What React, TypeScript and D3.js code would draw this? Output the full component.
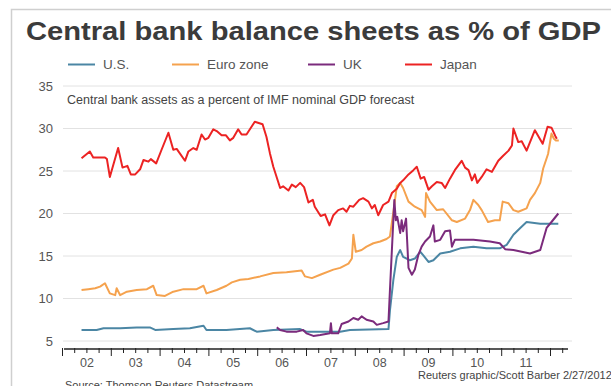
import React from "react";
import * as d3 from "d3";

const W = 611;
const H = 386;

const title = "Central bank balance sheets as % of GDP";
const subtitle = "Central bank assets as a percent of IMF nominal GDP forecast";
const sourceText = "Source: Thomson Reuters Datastream";
const creditText = "Reuters graphic/Scott Barber 2/27/2012";

const yTicks = [5, 10, 15, 20, 25, 30, 35];
const yearLabels = ["02", "03", "04", "05", "06", "07", "08", "09", "10", "11"];

const seriesNames = ["U.S.", "Euro zone", "UK", "Japan"];
const seriesColors = ["#4b86a4", "#f5a24e", "#7b2b7c", "#ec2323"];

// [decimal year, % of GDP]
const usData: [number, number][] = [
  [2002.39, 6.3], [2002.7, 6.3], [2002.84, 6.5], [2003.18, 6.5], [2003.52, 6.6],
  [2003.79, 6.6], [2003.9, 6.3], [2004.27, 6.4], [2004.61, 6.5], [2004.89, 6.8],
  [2004.95, 6.3], [2005.36, 6.3], [2005.84, 6.5], [2005.98, 6.1], [2006.32, 6.3],
  [2006.87, 6.4], [2007.0, 6.1], [2007.69, 6.1], [2007.89, 6.3], [2008.68, 6.4],
  [2008.71, 8.6], [2008.78, 12.2], [2008.85, 14.9], [2008.92, 15.7], [2008.98, 14.9],
  [2009.12, 14.5], [2009.22, 14.7], [2009.33, 15.5], [2009.39, 15.1], [2009.5, 14.3],
  [2009.6, 14.5], [2009.74, 15.3], [2009.94, 15.5], [2010.15, 15.9], [2010.42, 16.1],
  [2010.69, 15.9], [2010.96, 15.9], [2011.1, 16.3], [2011.24, 17.5], [2011.38, 18.3],
  [2011.51, 19.0], [2011.79, 18.8], [2011.99, 18.8], [2012.16, 18.8],
];

const euroData: [number, number][] = [
  [2002.39, 11.0], [2002.53, 11.1], [2002.67, 11.2], [2002.77, 11.4], [2002.87, 11.8],
  [2002.97, 10.6], [2003.08, 10.4], [2003.11, 11.2], [2003.18, 10.4], [2003.32, 10.8],
  [2003.52, 11.0], [2003.73, 11.1], [2003.86, 11.5], [2003.93, 10.4], [2004.1, 10.3],
  [2004.27, 10.8], [2004.48, 11.1], [2004.75, 11.1], [2004.89, 11.5], [2004.95, 10.6],
  [2005.16, 11.0], [2005.36, 11.5], [2005.47, 11.9], [2005.64, 12.2], [2005.81, 12.3],
  [2006.05, 12.6], [2006.32, 13.0], [2006.59, 13.1], [2006.9, 13.3], [2006.97, 12.6],
  [2007.11, 12.4], [2007.28, 12.8], [2007.55, 13.4], [2007.69, 13.6], [2007.86, 14.1],
  [2007.93, 14.7], [2007.96, 17.5], [2008.01, 15.5], [2008.13, 15.7], [2008.23, 16.1],
  [2008.37, 16.5], [2008.51, 16.7], [2008.64, 17.0], [2008.71, 17.3], [2008.78, 20.2],
  [2008.85, 23.2], [2008.92, 23.6], [2008.98, 23.0], [2009.09, 21.4], [2009.22, 20.8],
  [2009.36, 20.4], [2009.43, 19.6], [2009.45, 22.4], [2009.53, 21.4], [2009.67, 20.4],
  [2009.8, 20.5], [2009.98, 19.2], [2010.08, 19.0], [2010.25, 19.4], [2010.35, 20.4],
  [2010.42, 21.6], [2010.52, 21.0], [2010.59, 20.4], [2010.72, 19.0], [2010.86, 19.2],
  [2010.96, 19.2], [2011.02, 21.4], [2011.14, 21.2], [2011.24, 20.4], [2011.34, 20.2],
  [2011.51, 20.6], [2011.58, 21.6], [2011.68, 22.4], [2011.79, 23.6], [2011.85, 25.3],
  [2011.95, 27.0], [2012.02, 29.4], [2012.07, 28.8], [2012.11, 28.6], [2012.17, 28.6],
];

const ukData: [number, number][] = [
  [2006.39, 6.6], [2006.46, 6.3], [2006.59, 6.1], [2006.8, 6.1], [2006.93, 6.3],
  [2007.0, 5.9], [2007.14, 5.6], [2007.28, 5.7], [2007.48, 5.9], [2007.5, 7.1],
  [2007.52, 5.9], [2007.65, 5.9], [2007.72, 7.0], [2007.86, 7.3], [2007.96, 7.7],
  [2008.06, 7.5], [2008.13, 7.9], [2008.23, 7.5], [2008.37, 7.3], [2008.44, 6.9],
  [2008.57, 7.1], [2008.68, 7.3], [2008.71, 11.0], [2008.77, 18.1], [2008.8, 21.6],
  [2008.83, 19.2], [2008.86, 19.6], [2008.92, 17.7], [2008.95, 19.2], [2008.98, 17.9],
  [2009.04, 19.4], [2009.09, 13.6], [2009.16, 12.8], [2009.22, 13.4], [2009.29, 15.1],
  [2009.36, 16.1], [2009.43, 16.7], [2009.53, 17.3], [2009.6, 18.6], [2009.63, 16.7],
  [2009.74, 16.9], [2009.84, 17.9], [2009.94, 18.0], [2009.98, 16.1], [2010.04, 16.9],
  [2010.42, 16.9], [2010.76, 16.7], [2010.96, 16.5], [2011.07, 15.8], [2011.24, 15.7],
  [2011.58, 15.3], [2011.79, 15.7], [2011.92, 18.3], [2012.02, 19.0], [2012.16, 20.0],
];

const japanData: [number, number][] = [
  [2002.39, 26.5], [2002.56, 27.3], [2002.63, 26.6], [2002.87, 26.6], [2002.91, 26.4],
  [2002.97, 24.3], [2003.14, 27.7], [2003.23, 25.4], [2003.33, 25.6], [2003.4, 24.6],
  [2003.49, 24.6], [2003.59, 25.2], [2003.66, 26.3], [2003.76, 26.1], [2003.81, 26.4],
  [2003.92, 25.9], [2004.03, 27.5], [2004.17, 29.5], [2004.27, 27.5], [2004.34, 27.6],
  [2004.51, 26.2], [2004.58, 27.3], [2004.68, 27.7], [2004.75, 27.5], [2004.85, 29.3],
  [2004.92, 28.7], [2004.99, 28.9], [2005.09, 29.9], [2005.16, 29.7], [2005.26, 29.2],
  [2005.35, 29.2], [2005.43, 28.6], [2005.5, 28.9], [2005.6, 29.9], [2005.67, 29.3],
  [2005.77, 29.3], [2005.94, 30.8], [2006.1, 30.5], [2006.18, 29.0], [2006.25, 27.1],
  [2006.32, 25.5], [2006.46, 23.0], [2006.52, 23.2], [2006.63, 22.7], [2006.7, 23.4],
  [2006.78, 23.1], [2006.87, 23.6], [2006.95, 23.1], [2007.04, 21.3], [2007.13, 21.6],
  [2007.17, 20.8], [2007.29, 19.7], [2007.38, 19.9], [2007.47, 18.6], [2007.55, 19.8],
  [2007.65, 20.4], [2007.75, 20.6], [2007.82, 20.2], [2007.89, 20.9], [2007.96, 20.8],
  [2008.08, 21.6], [2008.16, 21.8], [2008.27, 21.4], [2008.34, 20.6], [2008.4, 21.0],
  [2008.47, 19.8], [2008.57, 21.0], [2008.68, 21.4], [2008.75, 22.4], [2008.85, 22.9],
  [2008.92, 23.6], [2008.98, 23.9], [2009.09, 24.6], [2009.19, 25.1], [2009.26, 25.5],
  [2009.34, 24.1], [2009.41, 24.3], [2009.5, 22.8], [2009.57, 23.2], [2009.67, 23.7],
  [2009.77, 23.6], [2009.84, 23.0], [2009.94, 24.1], [2010.04, 25.1], [2010.18, 26.2],
  [2010.25, 25.4], [2010.32, 25.1], [2010.39, 23.9], [2010.45, 24.6], [2010.5, 23.6],
  [2010.59, 24.3], [2010.69, 25.2], [2010.8, 24.9], [2010.93, 26.2], [2011.03, 26.8],
  [2011.14, 27.4], [2011.21, 28.0], [2011.24, 30.0], [2011.34, 28.4], [2011.41, 28.5],
  [2011.51, 27.4], [2011.68, 29.8], [2011.84, 28.2], [2011.94, 30.2], [2012.02, 30.1],
  [2012.1, 29.1], [2012.13, 28.8],
];

const allSeries = [usData, euroData, ukData, japanData];

const FONT = "'Liberation Sans', Arial, Helvetica, sans-serif";

export default function App() {
  const x = d3.scaleLinear().domain([2002, 2012]).range([62.5, 550.5]);
  const y = d3.scaleLinear().domain([5, 35]).range([341, 86]);
  const line = d3
    .line<[number, number]>()
    .x((d) => x(d[0]))
    .y((d) => y(d[1]));

  const gridX0 = 63;
  const gridX1 = 572;
  const axisY = 349;

  const majorTicks = d3.range(2002, 2013);
  const minorTicks = d3.range(2002, 2012.3, 0.25).filter((t) => Math.abs(t - Math.round(t)) > 0.01);

  const legendX = [68, 172, 308, 405];

  return (
    <svg
      width={W}
      height={H}
      style={{ position: "absolute", left: 0, top: 0, background: "#fff" }}
      fontFamily={FONT}
    >
      <rect x={0} y={0} width={W} height={H} fill="#fff" />
      <rect x={11.5} y={9.5} width={W + 20} height={H + 20} fill="none" stroke="#cfcfcf" strokeWidth={1.5} />

      <text x={26} y={39.5} fontSize={26} fontWeight="bold" fill="#3b3b3b" textLength={575} lengthAdjust="spacingAndGlyphs">
        {title}
      </text>

      {seriesNames.map((name, i) => (
        <g key={name}>
          <line x1={legendX[i]} x2={legendX[i] + 27} y1={64.5} y2={64.5} stroke={seriesColors[i]} strokeWidth={2} />
          <text x={legendX[i] + 35} y={69} fontSize={13.5} fill="#555">
            {name}
          </text>
        </g>
      ))}

      {yTicks.map((t) => (
        <g key={t}>
          <line x1={gridX0} x2={gridX1} y1={y(t)} y2={y(t)} stroke="#e2e2e2" strokeWidth={1} />
          <text x={53} y={y(t) + 4.5} fontSize={13} fill="#555" textAnchor="end">
            {t}
          </text>
        </g>
      ))}

      <text x={67} y={104} fontSize={12.5} fill="#444">
        {subtitle}
      </text>

      {allSeries.map((data, i) => (
        <path
          key={i}
          d={line(data) || ""}
          fill="none"
          stroke={seriesColors[i]}
          strokeWidth={2}
          strokeLinejoin="round"
        />
      ))}

      <line x1={64} x2={568} y1={axisY} y2={axisY} stroke="#222" strokeWidth={1.5} />
      {majorTicks.map((t) => (
        <line key={"M" + t} x1={x(t)} x2={x(t)} y1={axisY - 1} y2={axisY + 7} stroke="#222" strokeWidth={1} />
      ))}
      {minorTicks.map((t) => (
        <line key={"m" + t} x1={x(t)} x2={x(t)} y1={axisY - 1} y2={axisY + 4} stroke="#222" strokeWidth={1} />
      ))}
      {yearLabels.map((lab, i) => (
        <text key={lab} x={x(2002.5 + i)} y={366.5} fontSize={12.5} fill="#555" textAnchor="middle">
          {lab}
        </text>
      ))}

      <text x={65} y={389} fontSize={11} fill="#444">
        {sourceText}
      </text>
      <text x={418} y={378.5} fontSize={11} fill="#444">
        {creditText}
      </text>
    </svg>
  );
}
